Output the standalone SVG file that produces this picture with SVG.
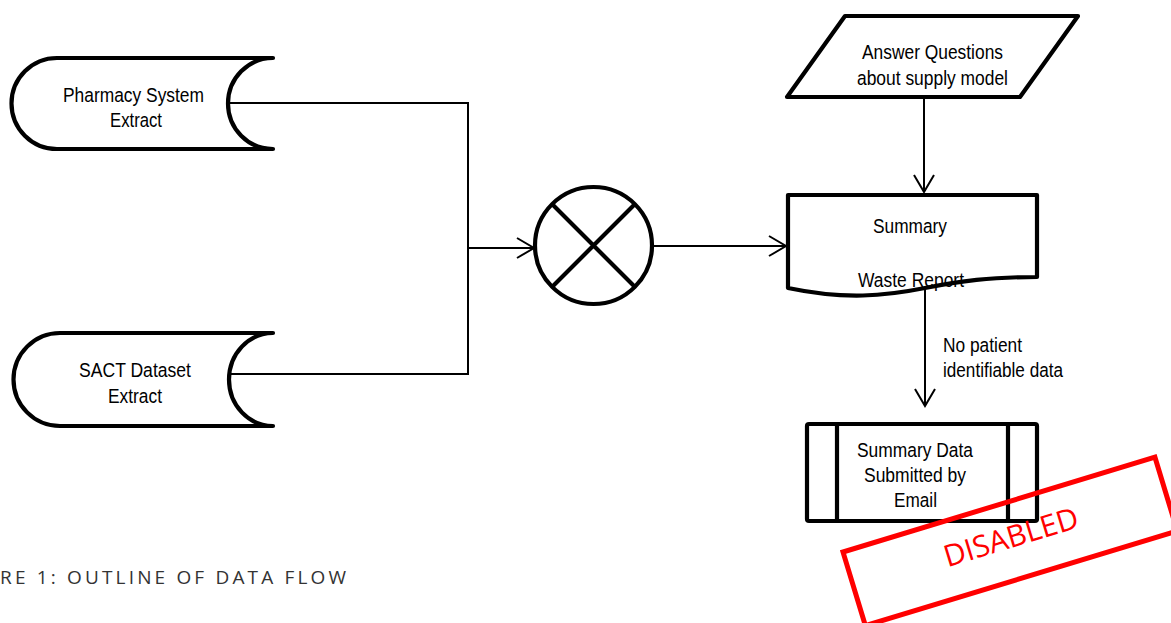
<svg xmlns="http://www.w3.org/2000/svg" width="1171" height="623" viewBox="0 0 1171 623">
<style>
.shape{fill:#fff;stroke:#000;stroke-width:4.2;stroke-linejoin:round;stroke-linecap:round}
.conn{fill:none;stroke:#000;stroke-width:2}
.lbl{font-family:"Liberation Sans",Arial,sans-serif;font-size:20.5px;fill:#000;text-anchor:middle}
.lbl-l{font-family:"Liberation Sans",Arial,sans-serif;font-size:20.5px;fill:#000}
.cap{font-family:"Open Sans","DejaVu Sans",sans-serif;font-size:19px;fill:#333}
.stamp{fill:none;stroke:#ff0000;stroke-width:5}
.stamptext{font-family:"Open Sans","DejaVu Sans",sans-serif;font-size:30px;fill:#ff0000;text-anchor:middle}
</style>
<defs>
<marker id="arrow" markerUnits="userSpaceOnUse" viewBox="-19 -12 21 24" refX="0" refY="0" markerWidth="21" markerHeight="24" orient="auto">
<path d="M-17,-10 L0,0 L-17,10" fill="none" stroke="#000" stroke-width="2"/>
</marker>
</defs>
<rect width="1171" height="623" fill="#fff"/>
<g id="connectors">
<path class="conn" d="M229,103 H468 V374 H229"/>
<path class="conn" d="M468,248 H534" marker-end="url(#arrow)"/>
<path class="conn" d="M652,246 H786" marker-end="url(#arrow)"/>
<path class="conn" d="M924,97 V192" marker-end="url(#arrow)"/>
<path class="conn" d="M925,290 V406" marker-end="url(#arrow)"/>
</g>
<g id="pharmacy">
<path class="shape" d="M273,58 L57,58 A45.5,45.5 0 0 0 57,149 L273,149 A45,45.5 0 0 1 273,58 Z"/>
<text class="lbl" x="133.5" y="102" textLength="141" lengthAdjust="spacingAndGlyphs">Pharmacy System</text>
<text class="lbl" x="136" y="127" textLength="52" lengthAdjust="spacingAndGlyphs">Extract</text>
</g>
<g id="sact">
<path class="shape" d="M273,333 L60,333 A46.5,46.5 0 0 0 60,426 L273,426 A44,46.5 0 0 1 273,333 Z"/>
<text class="lbl" x="135" y="377" textLength="112" lengthAdjust="spacingAndGlyphs">SACT Dataset</text>
<text class="lbl" x="135" y="403" textLength="54" lengthAdjust="spacingAndGlyphs">Extract</text>
</g>
<g id="merge">
<circle class="shape" cx="593.5" cy="245.5" r="58.5"/>
<path class="shape" d="M553.5,205.5 L633.5,285.5 M633.5,205.5 L553.5,285.5"/>
</g>
<g id="answer">
<path class="shape" d="M845,16 L1078,16 L1020,97 L787,97 Z"/>
<text class="lbl" x="932.5" y="59" textLength="141" lengthAdjust="spacingAndGlyphs">Answer Questions</text>
<text class="lbl" x="932.5" y="85" textLength="151" lengthAdjust="spacingAndGlyphs">about supply model</text>
</g>
<g id="summary">
<path class="shape" d="M788,195 L1037,195 L1037,277 C990,277 960,281 925,288 C885,296 845,300 788,288 Z"/>
<text class="lbl" x="910" y="233" textLength="74" lengthAdjust="spacingAndGlyphs">Summary</text>
<text class="lbl" x="911" y="287" textLength="106" lengthAdjust="spacingAndGlyphs">Waste Report</text>
</g>
<g id="note">
<text class="lbl-l" x="943" y="352" textLength="79" lengthAdjust="spacingAndGlyphs">No patient</text>
<text class="lbl-l" x="943" y="377" textLength="120" lengthAdjust="spacingAndGlyphs">identifiable data</text>
</g>
<g id="submitted">
<rect class="shape" x="807" y="424" width="230" height="97" rx="2"/>
<path class="shape" d="M837,424 V521 M1008,424 V521"/>
<text class="lbl" x="915" y="457" textLength="116" lengthAdjust="spacingAndGlyphs">Summary Data</text>
<text class="lbl" x="915" y="482" textLength="102" lengthAdjust="spacingAndGlyphs">Submitted by</text>
<text class="lbl" x="915.5" y="507" textLength="43" lengthAdjust="spacingAndGlyphs">Email</text>
</g>
<text class="cap" x="0" y="584" textLength="346" lengthAdjust="spacing">RE 1: OUTLINE OF DATA FLOW</text>
<g id="stamp" transform="translate(843,552) rotate(-16.9)">
<rect class="stamp" x="0" y="0" width="326" height="77"/>
<text class="stamptext" x="165" y="45">DISABLED</text>
</g>
</svg>
